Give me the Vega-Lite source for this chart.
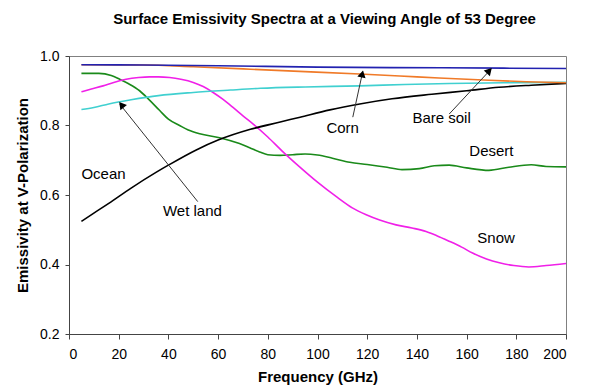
{
  "$schema": "https://vega.github.io/schema/vega-lite/v6.json",
  "width": 497,
  "height": 278,
  "autosize": {"type": "none"},
  "padding": {"left": 69, "top": 56, "right": 23, "bottom": 58},
  "background": "white",
  "config": {
    "font": "Liberation Sans",
    "view": {"stroke": "#808080", "strokeWidth": 1},
    "axis": {
      "grid": false,
      "domainColor": "#444",
      "tickColor": "#444",
      "labelColor": "black",
      "labelFontSize": 14,
      "labelFont": "Liberation Sans",
      "titleFont": "Liberation Sans",
      "titleFontSize": 15,
      "titleFontWeight": "bold",
      "titleColor": "black"
    },
    "axisX": {"tickSize": 5, "labelPadding": 8, "titlePadding": 8},
    "axisY": {"tickSize": 4, "labelPadding": 6, "titlePadding": 9}
  },
  "title": {
    "text": "Surface Emissivity Spectra at a Viewing Angle  of 53 Degree",
    "fontSize": 15,
    "fontWeight": "bold",
    "color": "black",
    "anchor": "middle",
    "offset": 22,
    "dx": 7
  },
  "datasets": {
    "curves": [
      {"s": "Desert", "f": 5, "v": 0.95}, {"s": "Desert", "f": 12, "v": 0.95}, {"s": "Desert", "f": 17, "v": 0.944}, {"s": "Desert", "f": 20.4, "v": 0.933}, {"s": "Desert", "f": 24, "v": 0.92}, {"s": "Desert", "f": 28.4, "v": 0.9}, {"s": "Desert", "f": 32, "v": 0.876}, {"s": "Desert", "f": 36.5, "v": 0.843}, {"s": "Desert", "f": 40, "v": 0.818}, {"s": "Desert", "f": 44.5, "v": 0.8}, {"s": "Desert", "f": 48, "v": 0.787}, {"s": "Desert", "f": 52.6, "v": 0.776}, {"s": "Desert", "f": 60.6, "v": 0.765}, {"s": "Desert", "f": 68.6, "v": 0.748}, {"s": "Desert", "f": 72.7, "v": 0.736}, {"s": "Desert", "f": 76.7, "v": 0.724}, {"s": "Desert", "f": 80, "v": 0.716}, {"s": "Desert", "f": 85, "v": 0.714}, {"s": "Desert", "f": 90, "v": 0.716}, {"s": "Desert", "f": 95, "v": 0.718}, {"s": "Desert", "f": 100, "v": 0.715}, {"s": "Desert", "f": 106, "v": 0.706}, {"s": "Desert", "f": 113, "v": 0.694}, {"s": "Desert", "f": 120, "v": 0.688}, {"s": "Desert", "f": 128, "v": 0.68}, {"s": "Desert", "f": 134, "v": 0.673}, {"s": "Desert", "f": 141, "v": 0.676}, {"s": "Desert", "f": 147, "v": 0.684}, {"s": "Desert", "f": 153, "v": 0.686}, {"s": "Desert", "f": 160, "v": 0.678}, {"s": "Desert", "f": 169, "v": 0.671}, {"s": "Desert", "f": 177, "v": 0.68}, {"s": "Desert", "f": 186, "v": 0.687}, {"s": "Desert", "f": 192, "v": 0.682}, {"s": "Desert", "f": 200, "v": 0.681},
      {"s": "Snow", "f": 5, "v": 0.897}, {"s": "Snow", "f": 9, "v": 0.905}, {"s": "Snow", "f": 13.7, "v": 0.914}, {"s": "Snow", "f": 18, "v": 0.924}, {"s": "Snow", "f": 23, "v": 0.933}, {"s": "Snow", "f": 28, "v": 0.938}, {"s": "Snow", "f": 32.4, "v": 0.94}, {"s": "Snow", "f": 36, "v": 0.94}, {"s": "Snow", "f": 40.5, "v": 0.938}, {"s": "Snow", "f": 45, "v": 0.933}, {"s": "Snow", "f": 50, "v": 0.924}, {"s": "Snow", "f": 54, "v": 0.912}, {"s": "Snow", "f": 58, "v": 0.895}, {"s": "Snow", "f": 62, "v": 0.875}, {"s": "Snow", "f": 66, "v": 0.852}, {"s": "Snow", "f": 70, "v": 0.828}, {"s": "Snow", "f": 74, "v": 0.805}, {"s": "Snow", "f": 80, "v": 0.767}, {"s": "Snow", "f": 86, "v": 0.725}, {"s": "Snow", "f": 92.8, "v": 0.681}, {"s": "Snow", "f": 100, "v": 0.637}, {"s": "Snow", "f": 108, "v": 0.593}, {"s": "Snow", "f": 114, "v": 0.563}, {"s": "Snow", "f": 119.6, "v": 0.543}, {"s": "Snow", "f": 125, "v": 0.528}, {"s": "Snow", "f": 131.6, "v": 0.514}, {"s": "Snow", "f": 138, "v": 0.505}, {"s": "Snow", "f": 143.7, "v": 0.495}, {"s": "Snow", "f": 148, "v": 0.483}, {"s": "Snow", "f": 153, "v": 0.467}, {"s": "Snow", "f": 158, "v": 0.45}, {"s": "Snow", "f": 162.4, "v": 0.433}, {"s": "Snow", "f": 168, "v": 0.416}, {"s": "Snow", "f": 173.2, "v": 0.405}, {"s": "Snow", "f": 179, "v": 0.397}, {"s": "Snow", "f": 185, "v": 0.393}, {"s": "Snow", "f": 192, "v": 0.397}, {"s": "Snow", "f": 200, "v": 0.403},
      {"s": "Wet land", "f": 5, "v": 0.846}, {"s": "Wet land", "f": 10, "v": 0.852}, {"s": "Wet land", "f": 16, "v": 0.862}, {"s": "Wet land", "f": 25, "v": 0.874}, {"s": "Wet land", "f": 36, "v": 0.886}, {"s": "Wet land", "f": 50, "v": 0.895}, {"s": "Wet land", "f": 65, "v": 0.902}, {"s": "Wet land", "f": 77, "v": 0.907}, {"s": "Wet land", "f": 95, "v": 0.911}, {"s": "Wet land", "f": 117, "v": 0.914}, {"s": "Wet land", "f": 135, "v": 0.918}, {"s": "Wet land", "f": 153, "v": 0.921}, {"s": "Wet land", "f": 175, "v": 0.923}, {"s": "Wet land", "f": 200, "v": 0.924},
      {"s": "Ocean", "f": 5, "v": 0.524}, {"s": "Ocean", "f": 10, "v": 0.548}, {"s": "Ocean", "f": 16, "v": 0.576}, {"s": "Ocean", "f": 25, "v": 0.62}, {"s": "Ocean", "f": 35, "v": 0.665}, {"s": "Ocean", "f": 40.5, "v": 0.688}, {"s": "Ocean", "f": 51, "v": 0.729}, {"s": "Ocean", "f": 60, "v": 0.758}, {"s": "Ocean", "f": 73, "v": 0.789}, {"s": "Ocean", "f": 85, "v": 0.81}, {"s": "Ocean", "f": 93, "v": 0.824}, {"s": "Ocean", "f": 105, "v": 0.845}, {"s": "Ocean", "f": 117, "v": 0.862}, {"s": "Ocean", "f": 130, "v": 0.877}, {"s": "Ocean", "f": 146, "v": 0.89}, {"s": "Ocean", "f": 160, "v": 0.9}, {"s": "Ocean", "f": 173, "v": 0.91}, {"s": "Ocean", "f": 186, "v": 0.916}, {"s": "Ocean", "f": 200, "v": 0.921},
      {"s": "Corn", "f": 5, "v": 0.975}, {"s": "Corn", "f": 30, "v": 0.974}, {"s": "Corn", "f": 50, "v": 0.969}, {"s": "Corn", "f": 73, "v": 0.962}, {"s": "Corn", "f": 95, "v": 0.955}, {"s": "Corn", "f": 117, "v": 0.948}, {"s": "Corn", "f": 140, "v": 0.94}, {"s": "Corn", "f": 169, "v": 0.93}, {"s": "Corn", "f": 184, "v": 0.926}, {"s": "Corn", "f": 200, "v": 0.923},
      {"s": "Bare soil", "f": 5, "v": 0.975}, {"s": "Bare soil", "f": 30, "v": 0.974}, {"s": "Bare soil", "f": 60, "v": 0.972}, {"s": "Bare soil", "f": 100, "v": 0.968}, {"s": "Bare soil", "f": 150, "v": 0.966}, {"s": "Bare soil", "f": 200, "v": 0.964}
    ],
    "arrows": [
      {"name": "Wet land", "f": 51.8, "v": 0.581, "f2": 20.4, "v2": 0.862},
      {"name": "Corn", "f": 114.2, "v": 0.824, "f2": 118.2, "v2": 0.955},
      {"name": "Bare soil", "f": 153, "v": 0.833, "f2": 169.8, "v2": 0.962}
    ],
    "heads": [
      {"name": "Wet land", "f": 21.4, "v": 0.857},
      {"name": "Corn", "f": 117.9, "v": 0.945},
      {"name": "Bare soil", "f": 168.8, "v": 0.955}
    ],
    "labels": [
      {"label": "Ocean", "f": 5, "v": 0.66},
      {"label": "Wet land", "f": 37.8, "v": 0.553},
      {"label": "Corn", "f": 103.6, "v": 0.793},
      {"label": "Bare soil", "f": 138.2, "v": 0.821},
      {"label": "Desert", "f": 161.1, "v": 0.726},
      {"label": "Snow", "f": 164.3, "v": 0.476}
    ]
  },
  "encoding": {
    "x": {
      "field": "f",
      "type": "quantitative",
      "scale": {"domain": [0, 200], "nice": false},
      "axis": {"values": [0, 20, 40, 60, 80, 100, 120, 140, 160, 180, 200]},
      "title": "Frequency (GHz)"
    },
    "y": {
      "field": "v",
      "type": "quantitative",
      "scale": {"domain": [0.2, 1.0], "nice": false, "zero": false},
      "axis": {"values": [0.2, 0.4, 0.6, 0.8, 1.0], "format": ".1f"},
      "title": "Emissivity at V-Polarization"
    }
  },
  "layer": [
    {
      "data": {"name": "curves"},
      "mark": {"type": "line", "interpolate": "monotone", "strokeWidth": 1.6},
      "encoding": {
        "color": {
          "field": "s",
          "type": "nominal",
          "scale": {
            "domain": ["Desert", "Snow", "Wet land", "Ocean", "Corn", "Bare soil"],
            "range": ["#1a8a1a", "#f020e8", "#40d0d0", "#000000", "#f07a28", "#2222b0"]
          },
          "legend": null
        }
      }
    },
    {
      "data": {"name": "arrows"},
      "mark": {"type": "rule", "color": "#333333", "strokeWidth": 1},
      "encoding": {
        "x2": {"field": "f2"},
        "y2": {"field": "v2"}
      }
    },
    {
      "data": {"name": "heads"},
      "transform": [{"filter": "datum.name == 'Wet land'"}],
      "mark": {"type": "point", "shape": "triangle", "filled": true, "color": "black", "size": 70, "angle": 321.6, "opacity": 1},
      "encoding": {}
    },
    {
      "data": {"name": "heads"},
      "transform": [{"filter": "datum.name == 'Corn'"}],
      "mark": {"type": "point", "shape": "triangle", "filled": true, "color": "black", "size": 70, "angle": 12.3, "opacity": 1},
      "encoding": {}
    },
    {
      "data": {"name": "heads"},
      "transform": [{"filter": "datum.name == 'Bare soil'"}],
      "mark": {"type": "point", "shape": "triangle", "filled": true, "color": "black", "size": 70, "angle": 42.8, "opacity": 1},
      "encoding": {}
    },
    {
      "data": {"name": "labels"},
      "mark": {"type": "text", "align": "left", "baseline": "middle", "fontSize": 15, "color": "black", "font": "Liberation Sans"},
      "encoding": {"text": {"field": "label", "type": "nominal"}}
    }
  ]
}
